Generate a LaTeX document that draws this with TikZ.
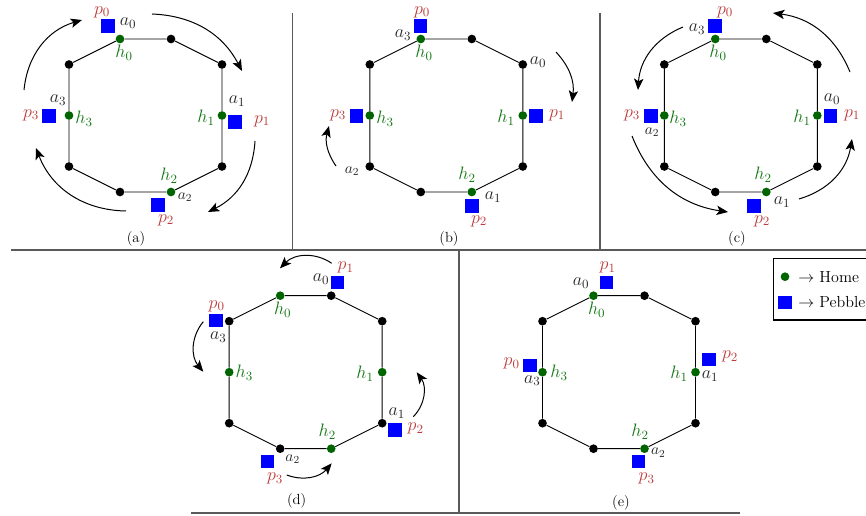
\RequirePackage{fix-cm}
\documentclass[tikz,border=0pt]{standalone}
\usetikzlibrary{arrows.meta}
\definecolor{hgreen}{RGB}{0,100,0}
\definecolor{hlab}{RGB}{20,120,20}
\definecolor{plab}{RGB}{190,60,60}
\definecolor{alab}{RGB}{40,40,40}
\definecolor{sepgray}{RGB}{90,90,90}
\definecolor{pblue}{RGB}{0,0,255}
\newcommand\octagon[3]{%
 \node[gdot] (#1v0) at (#2-25.5,#3-76.5) {};
 \node[bdot] (#1v1) at (#2+25.5,#3-76.5) {};
 \node[bdot] (#1v2) at (#2+76.5,#3-51) {};
 \node[gdot] (#1m1) at (#2+76.5,#3) {};
 \node[bdot] (#1v3) at (#2+76.5,#3+51) {};
 \node[gdot] (#1v4) at (#2+25.5,#3+76.5) {};
 \node[bdot] (#1v5) at (#2-25.5,#3+76.5) {};
 \node[bdot] (#1v6) at (#2-76.5,#3+51) {};
 \node[gdot] (#1m3) at (#2-76.5,#3) {};
 \node[bdot] (#1v7) at (#2-76.5,#3-51) {};
 \draw[edge] (#1v0)--(#1v1)--(#1v2)--(#1m1)--(#1v3)--(#1v4)--(#1v5)--(#1v6)--(#1m3)--(#1v7)--(#1v0);
}
\begin{document}
\begin{tikzpicture}[x=0.75pt,y=-0.75pt,
 bdot/.style={circle,fill=black,inner sep=0pt,minimum size=6.5pt},
 gdot/.style={bdot,fill=hgreen},
 peb/.style={rectangle,fill=pblue,inner sep=0pt,minimum size=10pt},
 edge/.style={line width=0.7pt},
 hl/.style={text=hlab,inner sep=0pt,font=\fontsize{13.5}{15}\selectfont},
 pl/.style={hl,text=plab},
 al/.style={hl,text=alab},
 als/.style={al,font=\fontsize{11.5}{13}\selectfont},
 captext/.style={font=\fontsize{11}{13}\selectfont,inner sep=0pt},
 legtext/.style={font=\fontsize{12}{14}\selectfont,inner sep=0pt},
 arr/.style={line width=0.75pt,-{Stealth[length=8.5pt,width=7pt,inset=2pt]}},
 sep/.style={draw=sepgray,line width=1.1pt}
]
\useasboundingbox (0,0) rectangle (866,516);
\clip (0,0) rectangle (866,516);
% separators
\coordinate (s1a) at (11,250); \coordinate (s1b) at (870,250);
\coordinate (s2a) at (292.5,13); \coordinate (s2b) at (292.5,250);
\coordinate (s3a) at (600,13); \coordinate (s3b) at (600,250);
\coordinate (s4a) at (459,250); \coordinate (s4b) at (459,513);
\coordinate (s5a) at (191,513); \coordinate (s5b) at (740,513);
\draw[sep] (s1a) -- (s1b);
\draw[sep] (s2a) -- (s2b);
\draw[sep] (s3a) -- (s3b);
\draw[sep] (s4a) -- (s4b);
\draw[sep] (s5a) -- (s5b);

% ---------- panel (a)
\octagon{a}{145.5}{115.5}
\node[hl] (a-h0) at (124,53) {$h_0$};
\node[pl] (a-p0l) at (102,12) {$p_0$};
\node[peb] (a-p0) at (108,26) {};
\node[al] (a-a0) at (128,23) {$a_0$};
\node[hl] (a-h1) at (206,118) {$h_1$};
\node[peb] (a-p1) at (235,122) {};
\node[pl] (a-p1l) at (262,121) {$p_1$};
\node[al] (a-a1) at (237,101) {$a_1$};
\node[hl] (a-h2) at (169,176) {$h_2$};
\node[als] (a-a2) at (185,197) {$a_2$};
\node[peb] (a-p2) at (158,205) {};
\node[pl] (a-p2l) at (166,220) {$p_2$};
\node[hl] (a-h3) at (84,119) {$h_3$};
\node[peb] (a-p3) at (49,116) {};
\node[pl] (a-p3l) at (31,115) {$p_3$};
\node[al] (a-a3) at (58,100) {$a_3$};
\node[captext] (a-cap) at (136,239) {(a)};
\coordinate (a-r1s) at (24,90); \coordinate (a-r1e) at (82,20);
\coordinate (a-r2s) at (152,14); \coordinate (a-r2e) at (242,71);
\coordinate (a-r3s) at (255,141); \coordinate (a-r3e) at (208,212);
\coordinate (a-r4s) at (126,211); \coordinate (a-r4e) at (36,148);
\draw[arr] (a-r1s) to[bend left=34] (a-r1e);
\draw[arr] (a-r2s) to[bend left=30] (a-r2e);
\draw[arr] (a-r3s) to[bend left=30] (a-r3e);
\draw[arr] (a-r4s) to[bend left=34] (a-r4e);

% ---------- panel (b)
\octagon{b}{446.3}{115.5}
\node[hl] (b-h0) at (424,53) {$h_0$};
\node[al] (b-a3) at (403,35) {$a_3$};
\node[peb] (b-p0) at (420.7,26) {};
\node[pl] (b-p0l) at (422,12) {$p_0$};
\node[al] (b-a0) at (538,62) {$a_0$};
\node[hl] (b-h1) at (506,118) {$h_1$};
\node[peb] (b-p1) at (536,116) {};
\node[pl] (b-p1l) at (557,115) {$p_1$};
\node[hl] (b-h2) at (467,175) {$h_2$};
\node[al] (b-a1) at (493,197) {$a_1$};
\node[peb] (b-p2) at (472,206) {};
\node[pl] (b-p2l) at (479,221) {$p_2$};
\node[hl] (b-h3) at (385,119) {$h_3$};
\node[peb] (b-p3) at (356.7,116) {};
\node[pl] (b-p3l) at (338,115) {$p_3$};
\node[als] (b-a2) at (352,171) {$a_2$};
\node[captext] (b-cap) at (449,239) {(b)};
\coordinate (b-r1s) at (556,52); \coordinate (b-r1e) at (572,102);
\coordinate (b-r2s) at (336,166); \coordinate (b-r2e) at (329,126);
\draw[arr] (b-r1s) to[bend left=25] (b-r1e);
\draw[arr] (b-r2s) to[bend left=25] (b-r2e);

% ---------- panel (c)
\octagon{c}{740.8}{115.5}
\node[hl] (c-h0) at (718,53) {$h_0$};
\node[peb] (c-p0) at (715,26) {};
\node[pl] (c-p0l) at (725,12) {$p_0$};
\node[al] (c-a3) at (697,29) {$a_3$};
\node[hl] (c-h1) at (802,118) {$h_1$};
\node[al] (c-a0) at (832,99) {$a_0$};
\node[peb] (c-p1) at (830.7,116) {};
\node[pl] (c-p1l) at (852,115) {$p_1$};
\node[hl] (c-h2) at (763,175) {$h_2$};
\node[al] (c-a1) at (782,202) {$a_1$};
\node[peb] (c-p2) at (754,206) {};
\node[pl] (c-p2l) at (762,221) {$p_2$};
\node[hl] (c-h3) at (678,119) {$h_3$};
\node[peb] (c-p3) at (651,116) {};
\node[pl] (c-p3l) at (632,115) {$p_3$};
\node[als] (c-a2) at (652,132) {$a_2$};
\node[captext] (c-cap) at (737,239) {(c)};
\coordinate (c-r1s) at (683,27); \coordinate (c-r1e) at (638,90);
\coordinate (c-r2s) at (632,136); \coordinate (c-r2e) at (728,212);
\coordinate (c-r3s) at (799,199); \coordinate (c-r3e) at (852,139);
\coordinate (c-r4s) at (850,72); \coordinate (c-r4e) at (773,13);
\draw[arr] (c-r1s) to[bend right=32] (c-r1e);
\draw[arr] (c-r2s) to[bend right=30] (c-r2e);
\draw[arr] (c-r3s) to[bend right=32] (c-r3e);
\draw[arr] (c-r4s) to[bend right=30] (c-r4e);

% ---------- panel (d)
\octagon{d}{305.7}{372.2}
\node[hl] (d-h0) at (282.7,310) {$h_0$};
\node[al] (d-a0) at (321,279) {$a_0$};
\node[peb] (d-p1) at (337.7,282.3) {};
\node[pl] (d-p1l) at (345.7,267.3) {$p_1$};
\node[peb] (d-p0) at (216,320.7) {};
\node[pl] (d-p0l) at (216.7,306) {$p_0$};
\node[al] (d-a3) at (218.3,337.3) {$a_3$};
\node[hl] (d-h3) at (244.3,373) {$h_3$};
\node[hl] (d-h1) at (365,374) {$h_1$};
\node[al] (d-a1) at (396.7,413.3) {$a_1$};
\node[peb] (d-p2) at (395,430) {};
\node[pl] (d-p2l) at (415.7,428.3) {$p_2$};
\node[hl] (d-h2) at (327.3,431.7) {$h_2$};
\node[als] (d-a2) at (292.7,459.3) {$a_2$};
\node[peb] (d-p3) at (267.3,461.7) {};
\node[pl] (d-p3l) at (275,478.3) {$p_3$};
\node[captext] (d-cap) at (296.7,500.7) {(d)};
\coordinate (d-r1s) at (331.7,263.3); \coordinate (d-r1e) at (280,268.3);
\coordinate (d-r2s) at (203.3,321.7); \coordinate (d-r2e) at (203.3,371.7);
\coordinate (d-r3s) at (413.3,416.7); \coordinate (d-r3e) at (416.7,372.3);
\coordinate (d-r4s) at (286.7,475); \coordinate (d-r4e) at (331.7,463.3);
\draw[arr] (d-r1s) to[bend right=40] (d-r1e);
\draw[arr] (d-r2s) to[bend right=40] (d-r2e);
\draw[arr] (d-r3s) to[bend right=40] (d-r3e);
\draw[arr] (d-r4s) to[bend right=35] (d-r4e);

% ---------- panel (e)
\octagon{e}{619}{372.2}
\node[hl] (e-h0) at (596.7,310) {$h_0$};
\node[al] (e-a0) at (581,283.3) {$a_0$};
\node[peb] (e-p1) at (606.7,282.3) {};
\node[pl] (e-p1l) at (607.7,267.3) {$p_1$};
\node[hl] (e-h1) at (679,374) {$h_1$};
\node[al] (e-a1) at (710,376) {$a_1$};
\node[peb] (e-p2) at (709,359.3) {};
\node[pl] (e-p2l) at (730,356.7) {$p_2$};
\node[hl] (e-h2) at (640,431.7) {$h_2$};
\node[als] (e-a2) at (658.3,452.7) {$a_2$};
\node[peb] (e-p3) at (638.3,461.7) {};
\node[pl] (e-p3l) at (646.7,478.3) {$p_3$};
\node[hl] (e-h3) at (559,373) {$h_3$};
\node[peb] (e-p0) at (530,365.7) {};
\node[pl] (e-p0l) at (511.7,363.3) {$p_0$};
\node[al] (e-a3) at (532.3,380.7) {$a_3$};
\node[captext] (e-cap) at (621,503) {(e)};

% ---------- legend
\coordinate (lg1) at (773.3,258.3); \coordinate (lg2) at (885,320);
\draw[line width=0.8pt] (lg1) rectangle (lg2);
\node[gdot] (lg-d) at (785,276.7) {};
\node[legtext,anchor=west] (lg-h) at (798,277) {$\rightarrow$ Home};
\node[peb] (lg-p) at (785,302.3) {};
\node[legtext,anchor=west] (lg-pt) at (798,302.3) {$\rightarrow$ Pebble};
\end{tikzpicture}
\end{document}
